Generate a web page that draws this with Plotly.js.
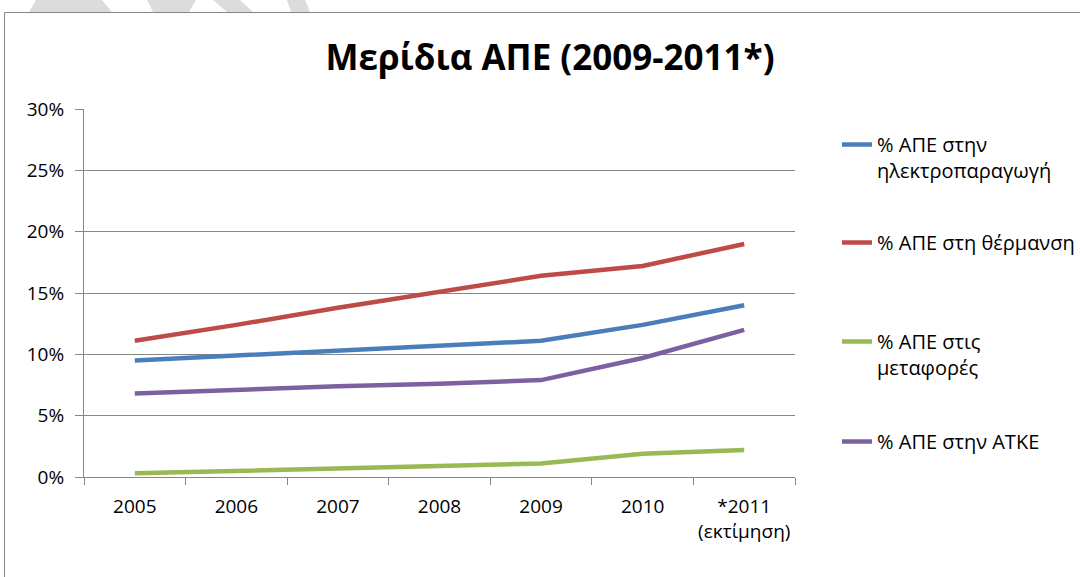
<!DOCTYPE html>
<html>
<head>
<meta charset="utf-8">
<script src="https://cdn.plot.ly/plotly-3.0.1.min.js"></script>
<style>html,body{margin:0;padding:0;background:#fff;}#chart{width:1080px;height:577px;}</style>
</head>
<body>
<div id="chart"></div>
<script>
// ---- data ----
const years = ["2005", "2006", "2007", "2008", "2009", "2010", "*2011<br>(εκτίμηση)"];
const seriesNames = [
  "% ΑΠΕ στην<br>ηλεκτροπαραγωγή",
  "% ΑΠΕ στη θέρμανση",
  "% ΑΠΕ στις<br>μεταφορές",
  "% ΑΠΕ στην ΑΤΚΕ"
];
const electricity = [0.095, 0.099, 0.103, 0.107, 0.111, 0.124, 0.140];
const heating     = [0.111, 0.124, 0.138, 0.151, 0.164, 0.172, 0.190];
const transport   = [0.003, 0.005, 0.007, 0.009, 0.011, 0.019, 0.022];
const atke        = [0.068, 0.071, 0.074, 0.076, 0.079, 0.097, 0.120];
const titleText = "Μερίδια ΑΠΕ (2009-2011*)";

// ---- layout helpers ----
const W = 1080, H = 577;
const M = {l: 84, r: 285, t: 109, b: 100};
const pw = W - M.l - M.r, ph = H - M.t - M.b;
const px = x => (x - M.l) / pw;
const py = y => (H - M.b - y) / ph;

const colors = ["#4a7ebb", "#be4b48", "#98b954", "#7d60a0"];
const values = [electricity, heating, transport, atke];
const legendIds = ["legend", "legend2", "legend3", "legend4"];
const legendTops = [125, 223, 322, 422];

const traces = values.map((v, i) => ({
  type: "scatter",
  mode: "lines",
  x: years,
  y: v,
  name: seriesNames[i],
  legend: legendIds[i],
  line: {color: colors[i], width: 4.5},
  hoverinfo: "skip"
}));

const font = {family: "'Open Sans', 'Noto Sans', sans-serif", color: "#000"};
const grey = "#868686";

const layout = {
  width: W, height: H,
  margin: Object.assign({autoexpand: false}, M),
  paper_bgcolor: "#fff",
  plot_bgcolor: "#fff",
  font: Object.assign({size: 19}, font),
  title: {
    text: titleText,
    font: Object.assign({}, font, {size: 35, weight: "bold"}),
    xref: "container", x: 550 / W, xanchor: "center",
    yref: "container", y: 1 - 58 / H, yanchor: "middle"
  },
  xaxis: {
    type: "category",
    range: [-0.5, years.length - 0.5],
    tickson: "boundaries",
    tickangle: 0,
    automargin: false,
    ticks: "outside", ticklen: 7, tickcolor: grey, tickwidth: 1,
    showline: true, linecolor: grey, linewidth: 1,
    showgrid: false, zeroline: false,
    tickfont: {size: 19},
    ticklabelstandoff: 12,
    fixedrange: true
  },
  yaxis: {
    range: [0, 0.30],
    dtick: 0.05, tick0: 0,
    tickformat: ".0%",
    automargin: false,
    ticks: "outside", ticklen: 8, tickcolor: grey, tickwidth: 1,
    showline: true, linecolor: grey, linewidth: 1,
    showgrid: true, gridcolor: grey, gridwidth: 1,
    zeroline: false,
    tickfont: {size: 19},
    ticklabelstandoff: 7,
    fixedrange: true
  },
  showlegend: true,
  shapes: [
    // faint watermark pieces above the chart frame
    {type: "path", xref: "paper", yref: "paper", layer: "below", line: {width: 0}, fillcolor: "#dcdcdc",
     path: `M${px(36)},${py(0)} L${px(102)},${py(0)} L${px(112)},${py(12)} L${px(29)},${py(12)} Z`},
    {type: "path", xref: "paper", yref: "paper", layer: "below", line: {width: 0}, fillcolor: "#dcdcdc",
     path: `M${px(147)},${py(0)} L${px(196)},${py(0)} L${px(189)},${py(12)} L${px(153)},${py(12)} Z`},
    {type: "path", xref: "paper", yref: "paper", layer: "below", line: {width: 0}, fillcolor: "#dcdcdc",
     path: `M${px(213)},${py(0)} L${px(240)},${py(0)} L${px(253)},${py(12)} L${px(227)},${py(12)} Z`},
    {type: "path", xref: "paper", yref: "paper", layer: "below", line: {width: 0}, fillcolor: "#dcdcdc",
     path: `M${px(287)},${py(0)} L${px(305)},${py(0)} L${px(310)},${py(12)} L${px(291)},${py(12)} Z`},
    // chart frame
    {type: "rect", xref: "paper", yref: "paper", layer: "below",
     x0: px(4.5), x1: px(1090), y0: py(600), y1: py(12.5),
     line: {color: grey, width: 1}, fillcolor: "rgba(0,0,0,0)"}
  ]
};

legendIds.forEach((id, i) => {
  layout[id] = {
    xref: "container", x: 837 / W, xanchor: "left",
    yref: "container", y: 1 - legendTops[i] / H, yanchor: "top",
    valign: "top",
    bgcolor: "rgba(0,0,0,0)",
    borderwidth: 0,
    font: {size: 20},
    itemclick: false, itemdoubleclick: false
  };
});

Plotly.newPlot("chart", traces, layout, {displayModeBar: false, staticPlot: true});
</script>
</body>
</html>
